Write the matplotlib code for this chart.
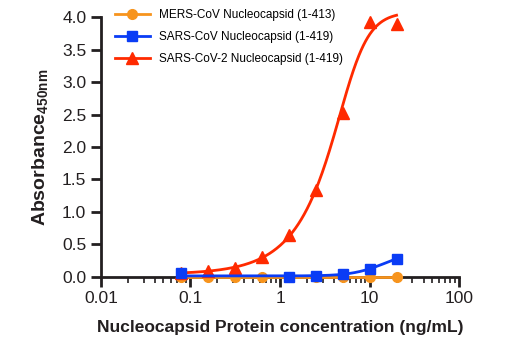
import numpy as np
import matplotlib
matplotlib.use("Agg")
import matplotlib.pyplot as plt

plt.rcParams['font.family'] = ['Liberation Sans', 'DejaVu Sans']
plt.rcParams['mathtext.fontset'] = 'custom'
plt.rcParams['mathtext.rm'] = 'Liberation Sans'

# concentrations (ng/mL)
conc = [0.078, 0.156, 0.3125, 0.625, 1.25, 2.5, 5, 10, 20]
mers = [0.0, 0.0, 0.0, 0.0, 0.0, 0.0, 0.0, 0.0, 0.0]
sars_x = [0.078, 1.25, 2.5, 5, 10, 20]
sars = [0.06, 0.0, 0.01, 0.05, 0.12, 0.28]
sars2 = [0.06, 0.09, 0.14, 0.30, 0.65, 1.34, 2.52, 3.92, 3.90]

labels = ['MERS-CoV Nucleocapsid (1-413)',
          'SARS-CoV Nucleocapsid (1-419)',
          'SARS-CoV-2 Nucleocapsid (1-419)']
c_orange = '#F7941D'
c_blue = '#0A3CF5'
c_red = '#FF2A00'
c_ink = '#231F20'


def fit5pl(x, y):
    # crude 5PL fit: grid over ec50/hill/asym, weighted linear LS for bottom/top
    x = np.asarray(x, float)
    y = np.asarray(y, float)
    w = 1.0 / (np.abs(y) + 0.1)**2
    best = None
    for lc in np.linspace(-1.0, 2.0, 61):
        for h in np.linspace(0.6, 5.0, 45):
            for s in [0.15, 0.25, 0.4, 0.6, 1.0, 1.5]:
                f = 1.0 / (1.0 + (10**lc / x)**h)**s
                A = np.column_stack([np.ones_like(f), f])
                Aw = A * np.sqrt(w)[:, None]
                coef, *_ = np.linalg.lstsq(Aw, y * np.sqrt(w), rcond=None)
                sse = np.sum(w * (A @ coef - y)**2)
                if best is None or sse < best[0]:
                    best = (sse, lc, h, s, coef)
    _, lc, h, s, coef = best
    xs = np.logspace(np.log10(x.min()), np.log10(x.max()), 300)
    ys = coef[0] + coef[1] / (1.0 + (10**lc / xs)**h)**s
    return xs, ys


fig = plt.figure(figsize=(5.2, 3.5), dpi=100)
ax = fig.add_axes([0.194, 0.209, 0.689, 0.742])

ax.plot(conc, mers, color=c_orange, lw=2, marker='o', ms=7, clip_on=False, zorder=3, label=labels[0])

xs, ys = fit5pl(conc, sars2)
ax.plot(xs, ys, color=c_red, lw=2, clip_on=False, zorder=4)
ax.plot(conc, sars2, ls='none', color=c_red, marker='^', ms=8, clip_on=False, zorder=4)

xs, ys = fit5pl(sars_x, sars)
ax.plot(xs, ys, color=c_blue, lw=2, clip_on=False, zorder=5)
ax.plot(sars_x, sars, ls='none', color=c_blue, marker='s', ms=7, clip_on=False, zorder=5)

# legend handles
ax.plot([], [], color=c_blue, lw=2, marker='s', ms=7, label=labels[1])
ax.plot([], [], color=c_red, lw=2, marker='^', ms=8, label=labels[2])

ax.set_xscale('log')
ax.set_xlim(0.01, 100)
ax.set_ylim(0, 4.0)
ax.set_yticks([0, 0.5, 1.0, 1.5, 2.0, 2.5, 3.0, 3.5, 4.0])
ax.set_yticklabels(['0.0', '0.5', '1.0', '1.5', '2.0', '2.5', '3.0', '3.5', '4.0'])
ax.set_xticks([0.01, 0.1, 1, 10, 100])
ax.set_xticklabels(['0.01', '0.1', '1', '10', '100'])

for s in ['top', 'right']:
    ax.spines[s].set_visible(False)
for s in ['left', 'bottom']:
    ax.spines[s].set_linewidth(2)
    ax.spines[s].set_color(c_ink)
ax.tick_params(which='major', length=7, width=2, labelsize=12.5, color=c_ink, labelcolor=c_ink)
ax.tick_params(which='minor', length=4, width=1.2, color=c_ink)

ax.set_xlabel('Nucleocapsid Protein concentration (ng/mL)', fontsize=12.5, fontweight='bold', color=c_ink, labelpad=10)
ax.set_ylabel(r'Absorbance$_{\mathregular{450nm}}$', fontsize=14, fontweight='bold', color=c_ink, labelpad=8)

ax.legend(loc='upper left', bbox_to_anchor=(0.025, 1.05), frameon=False, fontsize=8.5,
          handlelength=3, handletextpad=0.8, labelspacing=0.85, borderaxespad=0)

fig.savefig('out.png', dpi=100)
